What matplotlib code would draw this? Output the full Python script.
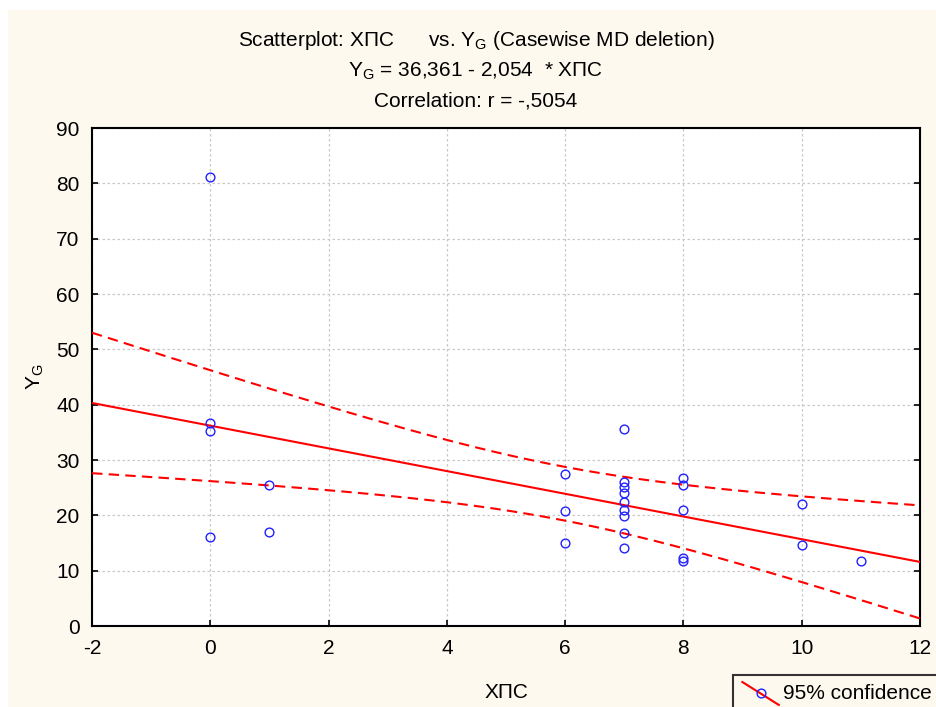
# -*- coding: utf-8 -*-
import numpy as np
import matplotlib
matplotlib.use("Agg")
import matplotlib.pyplot as plt
from matplotlib.lines import Line2D
from matplotlib.legend_handler import HandlerBase
from matplotlib.patches import Rectangle

plt.rcParams['font.family'] = ['Liberation Sans', 'DejaVu Sans']
plt.rcParams['mathtext.default'] = 'regular'
plt.rcParams['axes.unicode_minus'] = False

# data
xps = [0, 0, 0, 0, 1, 1, 6, 6, 6,
       7, 7, 7, 7, 7, 7, 7, 7, 7,
       8, 8, 8, 8, 8, 10, 10, 11]
yg = [81.1, 36.7, 35.2, 16.1, 25.5, 17.0, 27.5, 20.8, 15.0,
      35.6, 26.0, 25.1, 24.1, 22.4, 21.0, 19.8, 16.8, 14.1,
      26.7, 25.5, 20.9, 12.2, 11.7, 22.0, 14.7, 11.8]
xticks = [-2, 0, 2, 4, 6, 8, 10, 12]
yticks = [0, 10, 20, 30, 40, 50, 60, 70, 80, 90]

title1 = "Scatterplot: ХПС      vs. Y$_G$ (Casewise MD deletion)"
title2 = "Y$_G$ = 36,361 - 2,054  * ХПС"
title3 = "Correlation: r = -,5054"

# regression line and 95% band from the points
x = np.array(xps, float)
y = np.array(yg, float)
n = len(x)
b, a = np.polyfit(x, y, 1)
xs = np.linspace(-2, 12, 200)
fit = a + b * xs
s = np.sqrt(np.sum((y - (a + b * x)) ** 2) / (n - 2))
sxx = np.sum((x - x.mean()) ** 2)
t = 2.064
hw = t * s * np.sqrt(1.0 / n + (xs - x.mean()) ** 2 / sxx)

cream = '#fdf9ee'
fs = 15
fig = plt.figure(figsize=(9.37, 7.07), dpi=100, facecolor='white')
fig.patches.append(Rectangle((8 / 937, 0), 1, 1 - 10 / 707, transform=fig.transFigure,
                             facecolor=cream, edgecolor='none', zorder=-10))
ax = fig.add_axes([92 / 937, 1 - 626 / 707, 828 / 937, 498 / 707])
ax.set_facecolor('white')

ax.plot(xs, fit, color='#ff0000', lw=1.5, zorder=3)
ax.plot(xs, fit + hw, color='#ff0000', lw=1.5, ls=(0, (5, 3)), zorder=3)
ax.plot(xs, fit - hw, color='#ff0000', lw=1.5, ls=(0, (5, 3)), zorder=3)
ax.plot(x, y, ls='none', marker='o', ms=6.3, mfc='none', mec='#2020ff', mew=1.0, zorder=4)

ax.set_xlim(-2, 12)
ax.set_ylim(0, 90)
ax.set_xticks(xticks)
ax.set_yticks(yticks)
ax.tick_params(direction='in', length=4, width=1.2, labelsize=fs, right=True, pad=9,
               colors='black')
ax.grid(True, color='#c8c8c8', ls=(0, (2, 2)), lw=0.9)
for sp in ax.spines.values():
    sp.set_linewidth(1.5)

ax.set_xlabel("ХПС", fontsize=fs, labelpad=18)
ax.set_ylabel("Y$_G$", fontsize=fs, labelpad=7)

fig.text(476 / 937, 1 - 40 / 707, title1, ha='center', va='center', fontsize=fs)
fig.text(476 / 937, 1 - 71 / 707, title2, ha='center', va='center', fontsize=fs)
fig.text(476 / 937, 1 - 101 / 707, title3, ha='center', va='center', fontsize=fs)


class DiagHandler(HandlerBase):
    def create_artists(self, legend, orig_handle, xdescent, ydescent, width, height, fontsize, trans):
        ln = Line2D([0, width], [height + 2, -4], color='#ff0000', lw=1.5, transform=trans)
        mk = Line2D([width / 2], [height / 2 - 1], marker='o', ms=6.3, mfc='none', mec='#2020ff',
                    mew=1.0, ls='none', transform=trans)
        return [ln, mk]


proxy = Line2D([], [])
leg = fig.legend([proxy], ["95% confidence"], handler_map={Line2D: DiagHandler()},
                 loc='upper left', bbox_to_anchor=(733 / 937, 1 - 675 / 707),
                 frameon=True, fancybox=False, fontsize=fs, handlelength=1.75,
                 borderpad=0.45, handletextpad=0.2, borderaxespad=0)
leg.get_frame().set_edgecolor('black')
leg.get_frame().set_linewidth(1.5)
leg.get_frame().set_facecolor(cream)

fig.savefig("out.png", dpi=100, facecolor=fig.get_facecolor())
